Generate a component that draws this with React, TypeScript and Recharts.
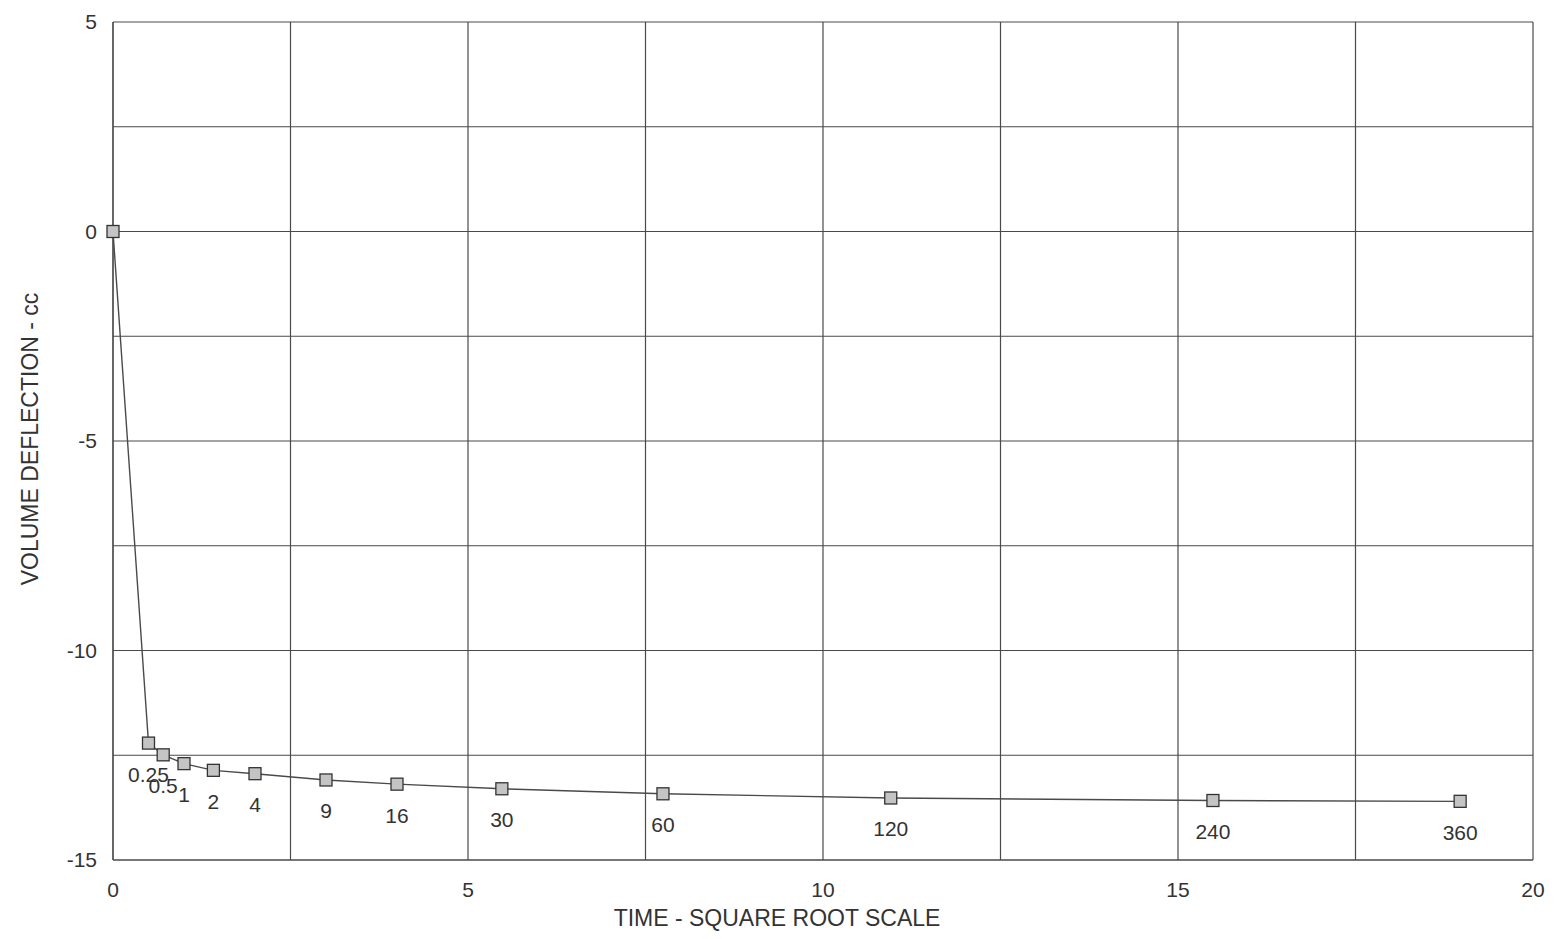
import React from 'react';
import { LineChart, Line, XAxis, YAxis, CartesianGrid, LabelList } from 'recharts';

// time labels (minutes)
const timeLabels = ['', '0.25', '0.5', '1', '2', '4', '9', '16', '30', '60', '120', '240', '360'];
// square root of time (x position)
const sqrtTime = [0, 0.5, 0.707, 1, 1.414, 2, 3, 4, 5.477, 7.746, 10.954, 15.492, 18.974];
// volume deflection (cc)
const deflection = [0, -12.21, -12.49, -12.7, -12.86, -12.94, -13.09, -13.19, -13.3, -13.42, -13.52, -13.58, -13.6];

const xTicks = [0, 2.5, 5, 7.5, 10, 12.5, 15, 17.5, 20];
const yTicks = [-15, -12.5, -10, -7.5, -5, -2.5, 0, 2.5, 5];

const data = sqrtTime.map((x, i) => ({ x, y: deflection[i], t: timeLabels[i] }));

const FONT = '"Liberation Sans", Arial, sans-serif';
const INK = '#333';

const SquareDot = (props: any) => {
  const { cx, cy } = props;
  if (cx == null || cy == null) return null;
  return (
    <g>
      <rect x={cx - 6} y={cy - 6} width={12} height={12} fill="#c4c4c4" stroke="#333" strokeWidth={1.3} />
    </g>
  );
};

const PointLabel = (props: any) => {
  const { x, y, value } = props;
  if (!value) return null;
  return (
    <text x={x} y={y + 31} textAnchor="middle" dominantBaseline="central" fontSize={21} fontFamily={FONT} fill={INK}>
      {value}
    </text>
  );
};

const fmt = (v: number) => (Number.isInteger(v / 5) ? String(v) : '');

export default function App() {
  return (
    <div style={{ position: 'absolute', left: 0, top: 0, width: 1554, height: 939, background: '#fff' }}>
      <LineChart width={1554} height={939} data={data} margin={{ top: 22, right: 21, bottom: 0, left: 0 }}>
        <CartesianGrid stroke="#4a4a4a" strokeWidth={1.2} horizontalValues={yTicks} verticalValues={xTicks} />
        <XAxis
          type="number"
          dataKey="x"
          domain={[0, 20]}
          ticks={xTicks}
          tickFormatter={fmt}
          interval={0}
          height={79}
          tickLine={false}
          tickSize={6}
          tickMargin={16}
          axisLine={{ stroke: '#4a4a4a', strokeWidth: 1.2 }}
          tick={{ fontSize: 21, fontFamily: FONT, fill: INK }}
          label={(p: any) => (
            <text x={777} y={918} textAnchor="middle" dominantBaseline="central" fontSize={23} fontFamily={FONT} fill={INK}>
              TIME - SQUARE ROOT SCALE
            </text>
          )}
        />
        <YAxis
          type="number"
          domain={[-15, 5]}
          ticks={yTicks}
          tickFormatter={fmt}
          interval={0}
          width={113}
          tickLine={false}
          tickSize={6}
          tickMargin={10}
          axisLine={{ stroke: '#4a4a4a', strokeWidth: 1.2 }}
          tick={{ fontSize: 21, fontFamily: FONT, fill: INK }}
          label={(p: any) => (
            <text
              x={30}
              y={439}
              transform="rotate(-90 30 439)"
              textAnchor="middle"
              dominantBaseline="central"
              fontSize={23}
              fontFamily={FONT}
              fill={INK}
            >
              VOLUME DEFLECTION - cc
            </text>
          )}
        />
        <Line
          type="linear"
          dataKey="y"
          stroke="#4a4a4a"
          strokeWidth={1.4}
          dot={<SquareDot />}
          activeDot={false}
          isAnimationActive={false}
        >
          <LabelList dataKey="t" content={<PointLabel />} />
        </Line>
      </LineChart>
    </div>
  );
}
